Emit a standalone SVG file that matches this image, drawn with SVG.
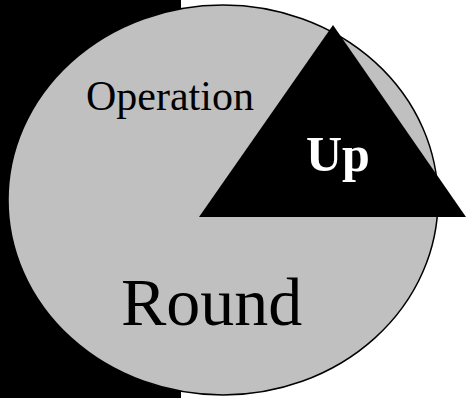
<svg xmlns="http://www.w3.org/2000/svg" width="466" height="398" viewBox="0 0 466 398">
<style>
text{font-family:"Liberation Serif","Times New Roman",serif;}
</style>
<rect width="466" height="398" fill="#fff"/>
<rect id="bar" x="0" y="0" width="181" height="398" fill="#000"/>
<g id="round">
<ellipse cx="223" cy="200" rx="215" ry="195" fill="#c0c0c0" stroke="#000" stroke-width="1.5"/>
<text x="121" y="325" font-size="68" fill="#000">Round</text>
</g>
<g id="operation">
<text x="86" y="110" font-size="42" fill="#000">Operation</text>
</g>
<g id="up">
<polygon points="333,25 199,217 466,217" fill="#000"/>
<text x="306" y="171" font-size="50" font-weight="bold" fill="#fff">Up</text>
</g>
<g id="connectors"/>
</svg>
